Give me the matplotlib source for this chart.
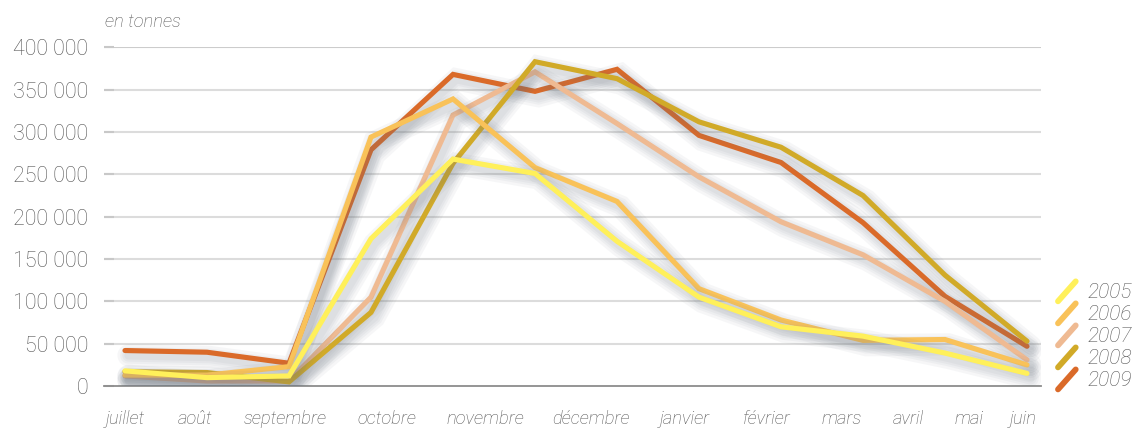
import matplotlib
matplotlib.use("Agg")
import matplotlib.pyplot as plt
from matplotlib.lines import Line2D
from matplotlib.legend_handler import HandlerBase
import matplotlib.patheffects as pe

# ---- data ----
months = ["juillet", "août", "septembre", "octobre", "novembre", "décembre",
          "janvier", "février", "mars", "avril", "mai", "juin"]
years = ["2005", "2006", "2007", "2008", "2009"]
s2005 = [18000, 10000, 12000, 174000, 268000, 251000, 171000, 105000, 70000, 59000, 39000, 15000]
s2006 = [13000, 13000, 23000, 294000, 339000, 258000, 218000, 115000, 78000, 54000, 55000, 25000]
s2007 = [12000, 6000, 6000, 105000, 320000, 371000, 310000, 247000, 194000, 155000, 100000, 31000]
s2008 = [17000, 16000, 5000, 87000, 263000, 383000, 363000, 312000, 282000, 225000, 131000, 53000]
s2009 = [42000, 40000, 27000, 279000, 368000, 348000, 374000, 296000, 264000, 193000, 106000, 47000]
yticks = [0, 50000, 100000, 150000, 200000, 250000, 300000, 350000, 400000]

# ---- layout / style ----
label_pos = [0, 0.854, 1.95, 3.19, 4.39, 5.68, 6.83, 7.83, 8.74, 9.56, 10.29, 10.96]
colors = ["#FFF05A", "#F9C259", "#EFBA92", "#D1AA28", "#DA6A29"]
zorders = [7, 6, 4, 5, 3]
txt = "#555555"

plt.rcParams['font.family'] = ['Roboto', 'DejaVu Sans']

fig = plt.figure(figsize=(11.38, 4.29), dpi=100)
ax = fig.add_axes([104/1138, 1-386.1/429, (1041-104)/1138, (386.1-47.3)/429])

series = [s2005, s2006, s2007, s2008, s2009]
x = list(range(len(months)))
shadow = [pe.SimpleLineShadow(offset=(2.5, -3.5), shadow_color="#6b7580", alpha=0.06, linewidth=w)
          for w in (16, 12, 9, 6)] + [pe.Normal()]
for name, vals, c, z in zip(years, series, colors, zorders):
    ax.plot(x, vals, color=c, lw=3.7, label=name, zorder=z, solid_joinstyle='miter',
            solid_capstyle='round', path_effects=shadow)

ax.set_xlim(-(125-104)/82, 11 + (1041-1027)/82)
ax.set_ylim(0, 400000)

for v in yticks:
    if v == 0:
        continue
    ax.axhline(v, color="#cccccc" if v == 400000 else "#dcdcdc", lw=1.5, zorder=1)
for s in ["left", "right", "top"]:
    ax.spines[s].set_visible(False)
ax.spines["bottom"].set_color("#8c8c8c")
ax.spines["bottom"].set_linewidth(1.3)

ax.set_yticks(yticks)
ax.set_yticklabels([f"{v:,}".replace(",", " ") for v in yticks])
ax.tick_params(axis="y", direction="in", length=7, width=1.5, color="#c8c8c8",
               pad=11.5, labelsize=15.5, labelcolor=txt)
for t in ax.get_yticklabels():
    t.set_fontweight("light")

ax.set_xticks(label_pos)
ax.set_xticklabels(months, fontstyle="italic", fontweight="light")
ax.tick_params(axis="x", length=0, pad=17.5, labelsize=13.2, labelcolor=txt)

fig.text(105/1138, 1-22/429, "en tonnes", fontsize=13.2, fontstyle="italic",
         fontweight="light", color=txt, va="center", ha="left")


class SlantHandler(HandlerBase):
    def create_artists(self, legend, orig_handle, xdescent, ydescent, width, height, fontsize, trans):
        l = Line2D([-xdescent, -xdescent + width], [-ydescent - height*0.15, -ydescent + height*1.05],
                   color=orig_handle.get_color(), lw=4.2, solid_capstyle='round', transform=trans)
        return [l]


handles = [Line2D([], [], color=c) for c in colors]
leg = fig.legend(handles, years, loc="center left", bbox_to_anchor=(1058/1138, 1-336/429),
                 frameon=False, handler_map={Line2D: SlantHandler()},
                 prop={"size": 15, "style": "italic", "weight": "light"},
                 handlelength=0.85, handleheight=0.85, handletextpad=0.55,
                 labelspacing=0.12, borderpad=0, borderaxespad=0)
for t in leg.get_texts():
    t.set_color(txt)

fig.savefig("out.png", dpi=100)
